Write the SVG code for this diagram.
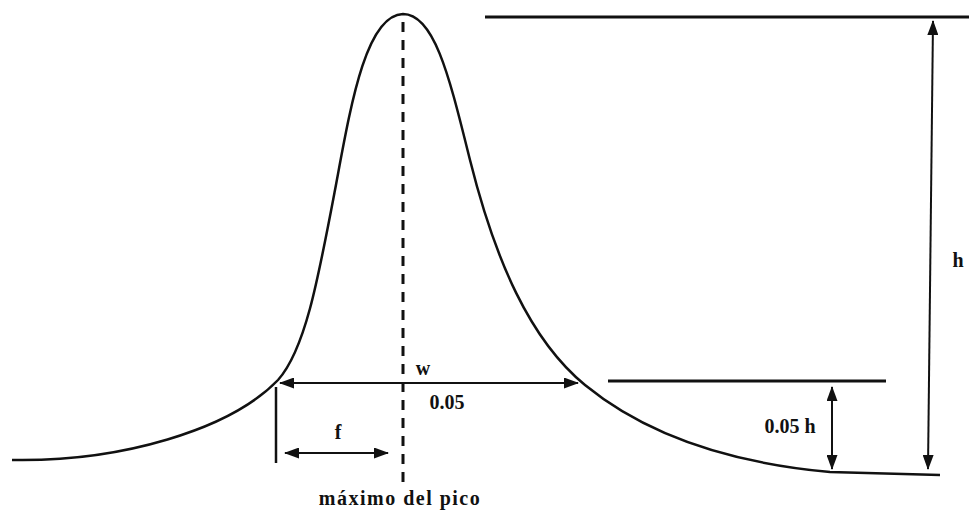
<svg xmlns="http://www.w3.org/2000/svg" width="969" height="512" viewBox="0 0 969 512">
<style>
.lbl{font-family:"Liberation Serif","Times New Roman",serif;font-weight:bold;font-size:20px;fill:#111}
.ln{stroke:#111;fill:none}
</style>
<defs>
<marker id="ah" viewBox="0 0 15 11" refX="14" refY="5.5" markerWidth="15" markerHeight="11" markerUnits="userSpaceOnUse" orient="auto-start-reverse">
<path d="M0,0 L15,5.5 L0,11 Z" fill="#111"/>
</marker>
</defs>
<rect width="969" height="512" fill="#fff"/>
<g id="curve">
<path class="ln" stroke-width="2.5" d="M12,460 C120,462 230,430 278,380 C305,350 318,280 335,190 C350,110 365,15 403,14 C435,14 450,80 470,160 C495,260 530,340 585,385 C640,430 720,462 830,472 L940,475"/>
</g>
<g id="peak-axis">
<line class="ln" x1="403" y1="22" x2="403" y2="486" stroke-width="3" stroke-dasharray="10,8"/>
</g>
<g id="levels">
<line class="ln" x1="485" y1="17" x2="969" y2="17" stroke-width="3"/>
<line class="ln" x1="608" y1="381" x2="886" y2="381" stroke-width="3"/>
<line class="ln" x1="276" y1="387" x2="276" y2="463" stroke-width="2.5"/>
</g>
<g id="connectors">
<line class="ln" x1="933" y1="21" x2="928" y2="469" stroke-width="2" marker-start="url(#ah)" marker-end="url(#ah)"/>
<line class="ln" x1="832" y1="387" x2="832" y2="469" stroke-width="2" marker-start="url(#ah)" marker-end="url(#ah)"/>
<line class="ln" x1="280" y1="383" x2="578" y2="383" stroke-width="2" marker-start="url(#ah)" marker-end="url(#ah)"/>
<line class="ln" x1="285" y1="453" x2="388" y2="453" stroke-width="2" marker-start="url(#ah)" marker-end="url(#ah)"/>
</g>
<g id="labels">
<text class="lbl" x="958" y="267" text-anchor="middle">h</text>
<text class="lbl" x="790" y="433" text-anchor="middle">0.05 h</text>
<text class="lbl" x="423" y="375" text-anchor="middle">w</text>
<text class="lbl" x="447" y="409" text-anchor="middle">0.05</text>
<text class="lbl" x="338" y="439" text-anchor="middle">f</text>
<text class="lbl" x="400" y="505" text-anchor="middle" letter-spacing="1.5">máximo del pico</text>
</g>
</svg>
